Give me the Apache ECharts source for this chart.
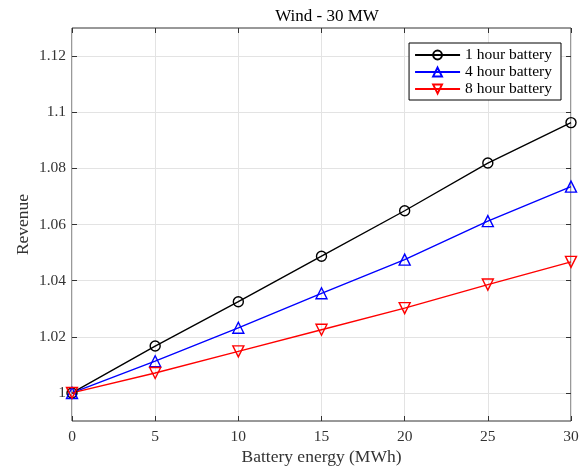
<!DOCTYPE html>
<html><head><meta charset="utf-8">
<script src="https://cdn.jsdelivr.net/npm/echarts@6/dist/echarts.min.js"></script>
<style>html,body{margin:0;padding:0;background:#fff}#c{width:582px;height:467px}</style>
</head><body><div id="c"></div>
<script>
const xValues = [0, 5, 10, 15, 20, 25, 30];
const oneHour = [1.0, 1.0167, 1.0325, 1.0487, 1.0649, 1.0819, 1.0963];
const fourHour = [1.0, 1.0113, 1.0232, 1.0355, 1.0475, 1.0612, 1.0735];
const eightHour = [1.0, 1.0071, 1.0148, 1.0225, 1.0302, 1.0386, 1.0467];
const yTicks = [1.0, 1.02, 1.04, 1.06, 1.08, 1.1, 1.12];
const seriesNames = ['1 hour battery', '4 hour battery', '8 hour battery'];

const font = 'Liberation Serif';
const axisColor = '#333333';
const gridColor = '#e3e3e3';
const tickLen = 5;
const pairs = arr => xValues.map((x, i) => [x, arr[i]]);
const fmtY = v => String(parseFloat(v.toFixed(2)));

function mkSeries(name, data, color, symbol, rotate) {
  return {
    name, type: 'line', data: pairs(data),
    symbol, symbolSize: symbol === 'circle' ? 10 : 11, symbolRotate: rotate,
    showAllSymbol: true,
    lineStyle: { color, width: 1.4 },
    itemStyle: { color: 'rgba(255,255,255,0)', borderColor: color, borderWidth: 1.4 },
    emphasis: { disabled: true },
    animation: false
  };
}

// Ticks drawn "inside" the box: each axis is shifted inward by the tick length
// and draws its ticks outward, so they end on the box border.
const tickStyle = { show: true, length: tickLen, lineStyle: { color: axisColor, width: 1 } };
const xCommon = { type: 'value', min: 0, max: 30, interval: 5, offset: -tickLen,
  axisLine: { show: false, onZero: false }, axisTick: tickStyle };
const yCommon = { type: 'value', min: 0.99, max: 1.13, offset: -tickLen,
  axisLine: { show: false, onZero: false },
  axisTick: Object.assign({ customValues: yTicks }, tickStyle) };

const chart = echarts.init(document.getElementById('c'), null, { renderer: 'canvas' });
chart.setOption({
  backgroundColor: '#fff',
  animation: false,
  title: {
    text: 'Wind - 30 MW', left: 322, top: 3, textAlign: 'center',
    textStyle: { fontFamily: font, fontSize: 17, fontWeight: 'normal', color: '#000' }
  },
  legend: {
    orient: 'vertical', right: 21, top: 43,
    data: seriesNames,
    itemWidth: 45, itemHeight: 11, itemGap: 1,
    padding: [4, 9, 3, 5],
    borderColor: '#000', borderWidth: 1, backgroundColor: '#fff',
    textStyle: { fontFamily: font, fontSize: 15.5, color: '#000' }
  },
  grid: { left: 72, right: 11, top: 28, bottom: 46, outerBoundsMode: 'none', containLabel: false,
    show: true, borderColor: axisColor, borderWidth: 1, backgroundColor: 'rgba(0,0,0,0)' },
  xAxis: [Object.assign({}, xCommon, {
    position: 'bottom',
    name: 'Battery energy (MWh)', nameLocation: 'middle', nameGap: 32, nameMoveOverlap: false,
    nameTextStyle: { fontFamily: font, fontSize: 17.5, color: axisColor },
    axisLabel: { fontFamily: font, fontSize: 15.5, color: axisColor, margin: 13 },
    splitLine: { show: true, lineStyle: { color: gridColor, width: 1 } }
  }), Object.assign({}, xCommon, {
    position: 'top', axisLabel: { show: false }, splitLine: { show: false }
  })],
  yAxis: [Object.assign({}, yCommon, {
    position: 'left',
    name: 'Revenue', nameLocation: 'middle', nameGap: 45, nameMoveOverlap: false,
    nameTextStyle: { fontFamily: font, fontSize: 17.5, color: axisColor },
    axisLabel: { fontFamily: font, fontSize: 15.5, color: axisColor, margin: 11, customValues: yTicks, formatter: fmtY },
    splitLine: { show: true, lineStyle: { color: gridColor, width: 1 } }
  }), Object.assign({}, yCommon, {
    position: 'right', axisLabel: { show: false, customValues: yTicks }, splitLine: { show: false }
  })],
  series: [
    mkSeries(seriesNames[0], oneHour, '#000000', 'circle', 0),
    mkSeries(seriesNames[1], fourHour, '#0000ff', 'triangle', 0),
    mkSeries(seriesNames[2], eightHour, '#ff0000', 'triangle', 180)
  ]
});
</script></body></html>
